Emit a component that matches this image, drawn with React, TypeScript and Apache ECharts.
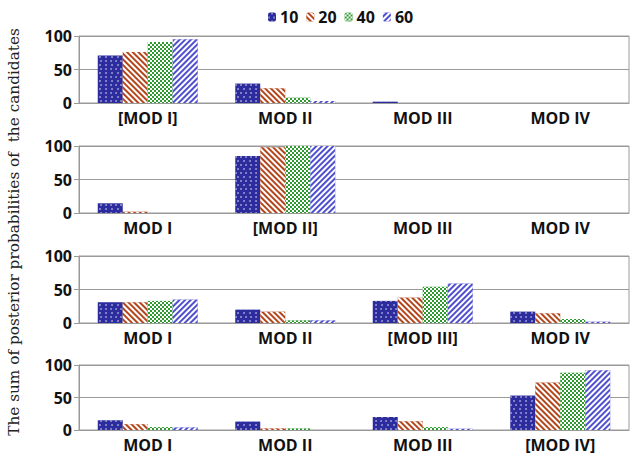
import React, { useEffect, useRef } from "react";
import * as echarts from "echarts";

const seriesNames = ["10", "20", "40", "60"];
const yTicks = [0, 50, 100];

const cats1 = ["[MOD I]", "MOD II", "MOD III", "MOD IV"];
const cats2 = ["MOD I", "[MOD II]", "MOD III", "MOD IV"];
const cats3 = ["MOD I", "MOD II", "[MOD III]", "MOD IV"];
const cats4 = ["MOD I", "MOD II", "MOD III", "[MOD IV]"];

// panel 1 values per series (10, 20, 40, 60)
const p1s10 = [71, 29, 2, 0];
const p1s20 = [76, 22, 0, 0];
const p1s40 = [91, 8, 0, 0];
const p1s60 = [95, 3, 0, 0];

const p2s10 = [14.5, 85, 0, 0];
const p2s20 = [2, 98, 0, 0];
const p2s40 = [0, 100, 0, 0];
const p2s60 = [0, 100, 0, 0];

const p3s10 = [31, 20, 33, 17];
const p3s20 = [31, 17, 38, 14.5];
const p3s40 = [33, 4, 54, 6];
const p3s60 = [35, 4, 59, 2];

const p4s10 = [15, 13, 20, 53];
const p4s20 = [9, 2.5, 13.5, 73];
const p4s40 = [4.5, 2.5, 4.5, 88];
const p4s60 = [4, 0, 2, 92];

const yTitle = "The sum of posterior probabilities of  the candidates";

const panels = [
  { cats: cats1, data: [p1s10, p1s20, p1s40, p1s60] },
  { cats: cats2, data: [p2s10, p2s20, p2s40, p2s60] },
  { cats: cats3, data: [p3s10, p3s20, p3s40, p3s60] },
  { cats: cats4, data: [p4s10, p4s20, p4s40, p4s60] },
];

const gridTops = [36, 146, 256, 365];
const gridHeights = [67, 67, 67, 65];

const styles = [
  {
    color: "#2c2c9e",
    decal: {
      symbol: "circle",
      symbolSize: 0.7,
      dashArrayX: [[2, 2.5], [0, 2.25, 2, 0.25]],
      dashArrayY: [2, 1.5],
      color: "#ffffff",
    },
  },
  {
    color: "#b3461c",
    decal: {
      symbol: "rect",
      symbolSize: 1,
      dashArrayX: [1, 0],
      dashArrayY: [2, 2],
      rotation: Math.PI / 4,
      color: "#ffffff",
    },
  },
  {
    color: "#2f9a2f",
    decal: {
      symbol: "rect",
      symbolSize: 1,
      dashArrayX: [[1.5, 1.5], [0, 1.5, 1.5, 0]],
      dashArrayY: [1.5, 0],
      color: "#ffffff",
    },
  },
  {
    color: "#4f4fd0",
    decal: {
      symbol: "rect",
      symbolSize: 1,
      dashArrayX: [1, 0],
      dashArrayY: [2, 2],
      rotation: -Math.PI / 4,
      color: "#ffffff",
    },
  },
];

export default function App() {
  const ref = useRef<HTMLDivElement>(null);
  useEffect(() => {
    if (!ref.current) return;
    const chart = echarts.init(ref.current, null, { renderer: "svg" });
    const font = "Open Sans";
    const grid: any[] = [];
    const xAxis: any[] = [];
    const yAxis: any[] = [];
    const series: any[] = [];
    panels.forEach((p, i) => {
      grid.push({
        left: 79,
        right: 4,
        top: gridTops[i],
        height: gridHeights[i],
        show: true,
        borderColor: "#9a9a9a",
        borderWidth: 1,
      });
      xAxis.push({
        type: "category",
        gridIndex: i,
        data: p.cats,
        axisTick: { show: false },
        axisLine: { lineStyle: { color: "#9a9a9a" } },
        axisLabel: {
          color: "#111",
          fontFamily: font,
          fontWeight: "bold",
          fontSize: 16,
          margin: 7,
        },
      });
      yAxis.push({
        type: "value",
        gridIndex: i,
        min: yTicks[0],
        max: yTicks[yTicks.length - 1],
        interval: 50,
        axisLine: { show: true, lineStyle: { color: "#9a9a9a" } },
        axisTick: { show: true, length: 5, lineStyle: { color: "#9a9a9a" } },
        splitLine: { lineStyle: { color: "#9a9a9a" } },
        axisLabel: {
          color: "#111",
          fontFamily: font,
          fontWeight: "bold",
          fontSize: 16,
          margin: 7,
        },
      });
      p.data.forEach((d, k) => {
        series.push({
          type: "bar",
          name: seriesNames[k],
          xAxisIndex: i,
          yAxisIndex: i,
          data: d,
          barWidth: 25,
          barGap: "0%",
          itemStyle: styles[k],
        });
      });
    });
    chart.setOption({
      animation: false,
      aria: { enabled: false, decal: { show: false } },
      legend: {
        data: seriesNames,
        left: 263,
        top: 4,
        itemWidth: 8,
        itemHeight: 9,
        itemGap: 8,
        textStyle: {
          fontFamily: font,
          fontWeight: "bold",
          fontSize: 16,
          color: "#111",
          padding: [0, 0, 0, -1],
        },
      },
      grid,
      xAxis,
      yAxis,
      series,
      graphic: [
        {
          type: "text",
          x: 14,
          y: 232,
          rotation: Math.PI / 2,
          style: {
            text: yTitle,
            fontFamily: "DejaVu Serif",
            fontSize: 15.3,
            fill: "#222",
            textAlign: "center",
            textVerticalAlign: "middle",
          },
        },
      ],
    });
    return () => chart.dispose();
  }, []);
  return (
    <div
      ref={ref}
      style={{ position: "absolute", left: 0, top: 0, width: 633, height: 457 }}
    />
  );
}
